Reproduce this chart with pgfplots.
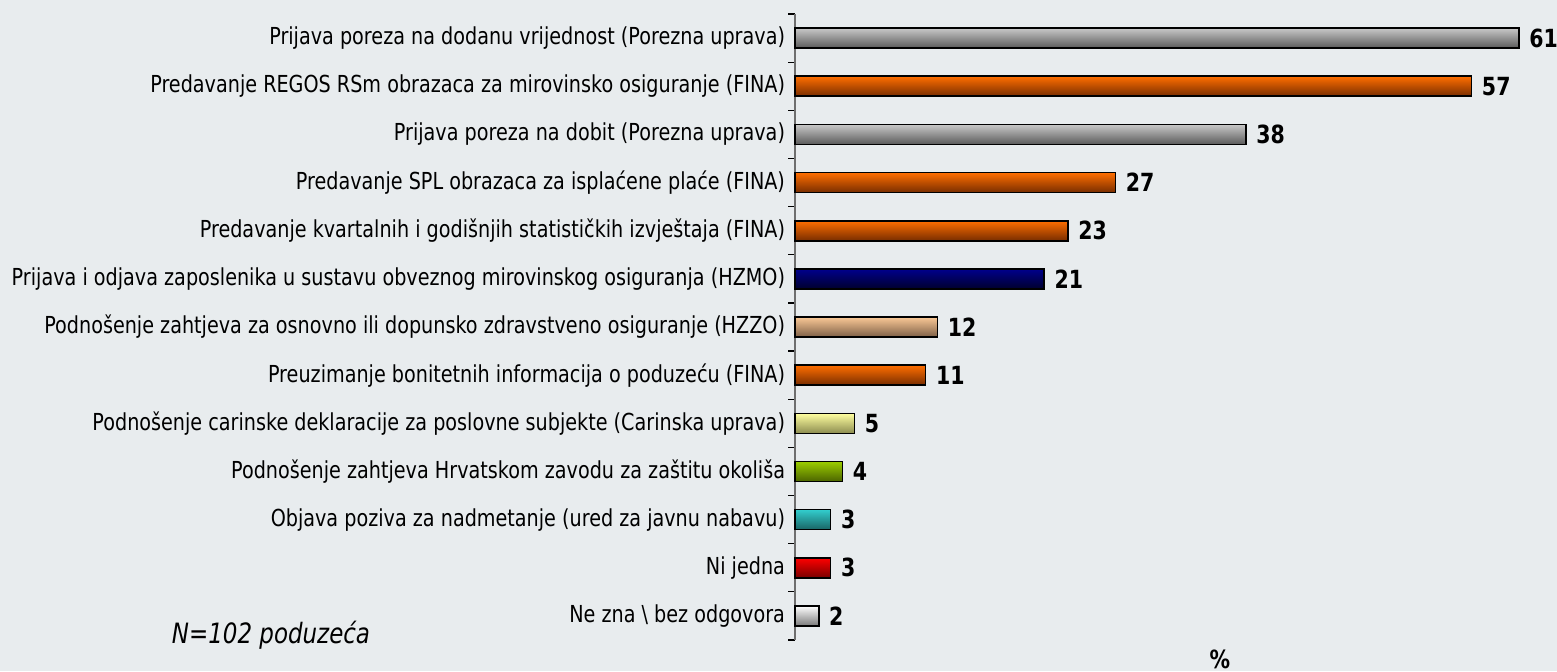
\documentclass[border=0pt]{standalone}
\usepackage{pgfplots}
\pgfplotsset{compat=1.18}
\usepackage{fontspec}
\setmainfont{DejaVu Sans}[FakeStretch=0.82]
\definecolor{bgc}{RGB}{232,236,238}
\definecolor{axc}{RGB}{110,110,110}
\definecolor{grT}{RGB}{200,200,200}\definecolor{grB}{RGB}{90,90,90}
\definecolor{orT}{RGB}{255,110,0}\definecolor{orB}{RGB}{120,45,0}
\definecolor{nvT}{RGB}{0,0,140}\definecolor{nvB}{RGB}{0,0,45}
\definecolor{tnT}{RGB}{250,200,150}\definecolor{tnB}{RGB}{125,95,70}
\definecolor{ylT}{RGB}{255,255,160}\definecolor{ylB}{RGB}{140,140,80}
\definecolor{gnT}{RGB}{155,205,0}\definecolor{gnB}{RGB}{75,100,0}
\definecolor{tlT}{RGB}{50,205,205}\definecolor{tlB}{RGB}{25,100,100}
\definecolor{rdT}{RGB}{255,0,0}\definecolor{rdB}{RGB}{120,0,0}
\definecolor{whT}{RGB}{255,255,255}\definecolor{whB}{RGB}{120,120,120}
\pgfplotsset{
  hb/.style 2 args={xbar, bar width=10pt, bar shift=0pt, draw=black, line width=0.8pt,
    top color=#1, bottom color=#2, point meta=x, nodes near coords,
    nodes near coords style={font=\fontsize{12.5}{14}\selectfont\bfseries, anchor=west, text=black, xshift=1.5pt}},
}
\begin{document}
\begin{tikzpicture}
\fill[bgc] (0,0) rectangle (778.5pt,335.5pt);
\useasboundingbox (0,0) rectangle (778.5pt,335.5pt);
\begin{axis}[
  at={(397.5pt,15.5pt)}, anchor=south west,
  scale only axis, width=379.8pt, height=313pt,
  xmin=0, xmax=64, ymin=-0.5, ymax=12.5, y dir=reverse,
  axis x line=none, axis y line*=left,
  y axis line style={axc, line width=0.8pt, -},
  ytick={0,...,12},
  yticklabels={
    Prijava poreza na dodanu vrijednost (Porezna uprava),
    Predavanje REGOS RSm obrazaca za mirovinsko osiguranje (FINA),
    Prijava poreza na dobit (Porezna uprava),
    Predavanje SPL obrazaca za isplaćene plaće (FINA),
    Predavanje kvartalnih i godišnjih statističkih izvještaja (FINA),
    Prijava i odjava zaposlenika u sustavu obveznog mirovinskog osiguranja (HZMO),
    Podnošenje zahtjeva za osnovno ili dopunsko zdravstveno osiguranje (HZZO),
    Preuzimanje bonitetnih informacija o poduzeću (FINA),
    Podnošenje carinske deklaracije za poslovne subjekte (Carinska uprava),
    Podnošenje zahtjeva Hrvatskom zavodu za zaštitu okoliša,
    Objava poziva za nadmetanje (ured za javnu nabavu),
    Ni jedna,
    Ne zna \textbackslash{} bez odgovora},
  yticklabel style={font=\fontsize{11.7}{13}\selectfont, xshift=-1.5pt},
  major tick length=0pt,
  minor ytick={-0.5,0.5,...,12.5},
  minor tick length=3.5pt,
  tick align=outside,
  minor tick style={black, line width=0.6pt},
  /pgf/number format/assume math mode=true,
  clip=false,
]
\addplot[hb={grT}{grB}] coordinates {(61,0)};
\addplot[hb={orT}{orB}] coordinates {(57,1)};
\addplot[hb={grT}{grB}] coordinates {(38,2)};
\addplot[hb={orT}{orB}] coordinates {(27,3)};
\addplot[hb={orT}{orB}] coordinates {(23,4)};
\addplot[hb={nvT}{nvB}] coordinates {(21,5)};
\addplot[hb={tnT}{tnB}] coordinates {(12,6)};
\addplot[hb={orT}{orB}] coordinates {(11,7)};
\addplot[hb={ylT}{ylB}] coordinates {(5,8)};
\addplot[hb={gnT}{gnB}] coordinates {(4,9)};
\addplot[hb={tlT}{tlB}] coordinates {(3,10)};
\addplot[hb={rdT}{rdB}] coordinates {(3,11)};
\addplot[hb={whT}{whB}] coordinates {(2,12)};
\end{axis}
\node[font=\fontsize{14}{16}\selectfont\itshape] at (135.5pt,18pt) {N=102 poduzeća};
\node[font=\fontsize{12.5}{14}\selectfont\bfseries] at (610pt,6pt) {\%};
\end{tikzpicture}
\end{document}
